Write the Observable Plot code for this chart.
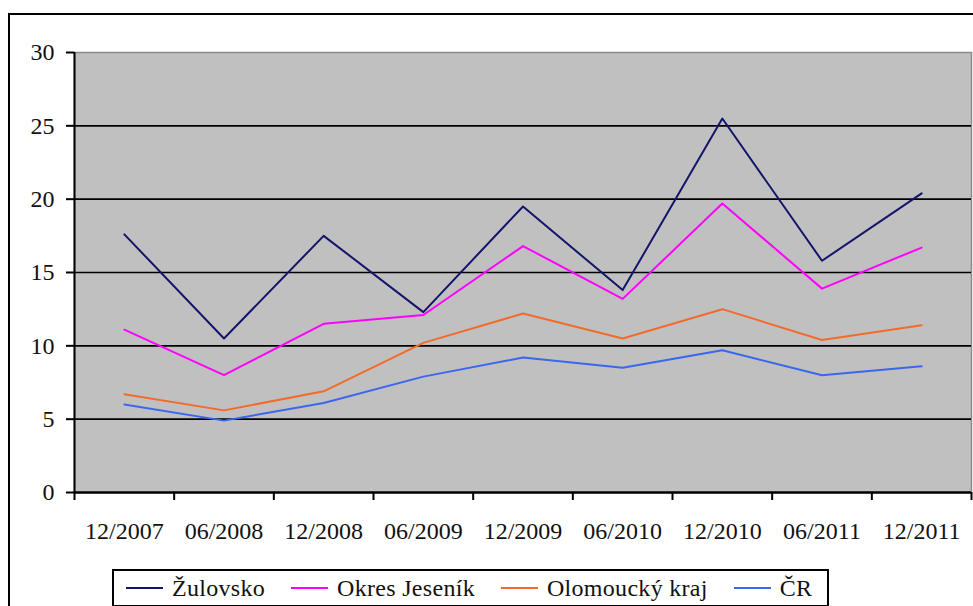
<!DOCTYPE html>
<html>
<head>
<meta charset="utf-8">
<script src="https://cdn.jsdelivr.net/npm/d3@7"></script>
<script src="https://cdn.jsdelivr.net/npm/@observablehq/plot@0.6"></script>
<style>
  html, body { margin: 0; padding: 0; background: #fff; }
  #wrap { position: relative; width: 973px; height: 606px; overflow: hidden; font-family: "Liberation Serif", "Times New Roman", "DejaVu Serif", serif; }
  #frame { position: absolute; left: 8px; top: 13px; width: 980px; height: 620px; border: 2px solid #000; box-sizing: border-box; pointer-events: none; }
  #chart { position: absolute; left: 0; top: 0; }
  #chart svg text { font-family: "Liberation Serif", "Times New Roman", "DejaVu Serif", serif; }
  #legend { position: absolute; left: 112px; top: 569px; width: 717px; height: 38px; border: 2px solid #000; box-sizing: border-box; display: flex; align-items: center; font-size: 24px; color: #111; background: #fff; padding-left: 12px; letter-spacing: 0.3px; }
  .item { display: flex; align-items: center; margin-right: 26px; white-space: nowrap; }
  .swatch { width: 37px; height: 0; border-top: 2px solid; margin-right: 9px; }
</style>
</head>
<body>
<div id="wrap">
  <div id="frame"></div>
  <div id="chart"></div>
  <div id="legend"></div>
</div>
<script>
const categories = ["12/2007", "06/2008", "12/2008", "06/2009", "12/2009", "06/2010", "12/2010", "06/2011", "12/2011"];
const seriesNames = ["Žulovsko", "Okres Jeseník", "Olomoucký kraj", "ČR"];
const zulovsko = [17.6, 10.5, 17.5, 12.3, 19.5, 13.8, 25.5, 15.8, 20.4];
const jesenik = [11.1, 8.0, 11.5, 12.1, 16.8, 13.2, 19.7, 13.9, 16.7];
const olomoucky = [6.7, 5.6, 6.9, 10.2, 12.2, 10.5, 12.5, 10.4, 11.4];
const cr = [6.0, 4.9, 6.1, 7.9, 9.2, 8.5, 9.7, 8.0, 8.6];
const yTicks = [0, 5, 10, 15, 20, 25, 30];
const colors = ["#14146a", "#ff00ff", "#f26b2a", "#3a66f0"];

const seriesValues = [zulovsko, jesenik, olomoucky, cr];
const data = [];
seriesNames.forEach((name, s) => {
  seriesValues[s].forEach((v, i) => data.push({series: name, i, cat: categories[i], value: v}));
});
const boundaries = d3.range(categories.length + 1).map(k => k - 0.5);

const chart = Plot.plot({
  width: 973,
  height: 560,
  marginLeft: 74,
  marginRight: 2,
  marginTop: 52,
  marginBottom: 68,
  style: {fontSize: "24px", color: "#111", background: "transparent"},
  x: {type: "linear", domain: [-0.5, categories.length - 0.5]},
  y: {domain: [0, 30]},
  color: {domain: seriesNames, range: colors},
  marks: [
    Plot.frame({fill: "#c0c0c0", stroke: "#8a8a8a", strokeWidth: 1.5}),
    Plot.ruleY(yTicks.filter(t => t > 0 && t < 30), {stroke: "#000", strokeWidth: 1.6}),
    Plot.line(data, {x: "i", y: "value", z: "series", stroke: "series", strokeWidth: 2}),
    Plot.ruleY([0], {stroke: "#000", strokeWidth: 2.5}),
    Plot.ruleX([-0.5], {stroke: "#000", strokeWidth: 2}),
    Plot.axisY({ticks: yTicks, tickSize: 8, tickPadding: 12, stroke: "#000", strokeWidth: 2, label: null, fill: "#111"}),
    Plot.axisX({ticks: boundaries, tickSize: 8, stroke: "#000", strokeWidth: 2, tickFormat: () => "", label: null}),
    Plot.axisX({ticks: d3.range(categories.length), tickSize: 0, tickPadding: 29, tickFormat: i => categories[i], label: null, fill: "#111"})
  ]
});
document.getElementById("chart").appendChild(chart);

const legend = document.getElementById("legend");
seriesNames.forEach((name, s) => {
  const item = document.createElement("div");
  item.className = "item";
  const sw = document.createElement("span");
  sw.className = "swatch";
  sw.style.borderTopColor = colors[s];
  const label = document.createElement("span");
  label.textContent = name;
  item.appendChild(sw);
  item.appendChild(label);
  legend.appendChild(item);
});
</script>
</body>
</html>
